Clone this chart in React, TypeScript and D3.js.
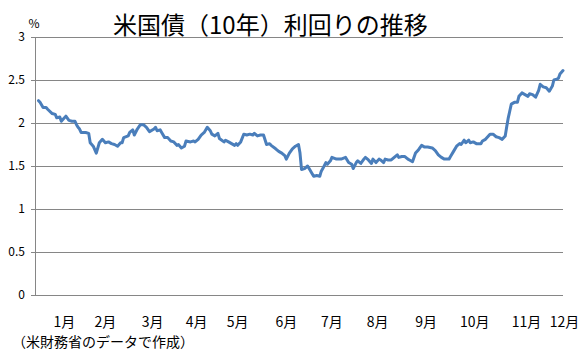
import React from "react";
import * as d3 from "d3";

const title = "米国債（10年）利回りの推移";
const unitLabel = "%";
const footnote = "（米財務省のデータで作成）";

// day-of-year positions of the observations and the yields (%)
const days = [
  5, 6, 8, 10, 11, 14, 16, 17, 19, 20, 21, 23, 25, 27, 29, 30, 31, 32, 33, 36, 38, 39, 41, 43, 45, 47, 49, 51, 53, 55, 57, 59, 60,
  61, 64, 65, 67, 68, 70, 72, 74, 76, 78, 81, 82, 83, 85, 86, 88, 90, 92, 94, 96, 97, 99, 101, 102, 105, 107, 108, 110, 112, 114, 116, 118, 119, 121, 123,
  124, 127, 128, 130, 132, 134, 135, 136, 138, 140, 142, 144, 146, 147, 149, 151, 153, 155, 157, 158, 161, 163, 165, 167, 168, 170, 172, 174, 176, 177, 178, 180, 182, 183, 185, 186,
  188, 190, 191, 192, 194, 195, 197, 198, 201, 202, 204, 207, 209, 211, 212, 214, 215, 217, 219, 220, 222, 224, 225, 227, 229, 230, 232, 233, 235, 237, 239, 241, 242, 244, 246, 248, 249,
  251, 253, 255, 257, 259, 261, 264, 266, 268, 270, 272, 275, 276, 278, 280, 282, 283, 285, 286, 288, 289, 291, 293, 296, 297, 299, 302, 304, 306, 308, 310,
  312, 313, 314, 315, 316, 318, 320, 321, 323, 325, 327, 328, 330, 332, 334, 335, 337, 339, 341, 343, 344, 346, 347, 348, 350,
];
const yields = [
  2.26, 2.24, 2.18, 2.18, 2.16, 2.11, 2.1, 2.06, 2.07, 2.02, 2.04, 2.08, 2.03, 2.02, 2.02, 1.98, 1.95, 1.93, 1.89, 1.89, 1.88, 1.77, 1.73, 1.65, 1.77, 1.81, 1.77, 1.78, 1.76, 1.75, 1.73, 1.77, 1.77,
  1.83, 1.85, 1.89, 1.92, 1.86, 1.93, 1.98, 1.98, 1.95, 1.9, 1.93, 1.95, 1.91, 1.92, 1.89, 1.83, 1.83, 1.79, 1.78, 1.74, 1.75, 1.71, 1.73, 1.79, 1.78, 1.79, 1.78, 1.81, 1.86, 1.89, 1.95, 1.91, 1.87, 1.85, 1.88,
  1.82, 1.78, 1.8, 1.78, 1.76, 1.74, 1.76, 1.74, 1.78, 1.87, 1.86, 1.87, 1.86, 1.88, 1.85, 1.86, 1.86, 1.75, 1.76, 1.74, 1.7, 1.67, 1.65, 1.62, 1.58, 1.65, 1.7, 1.73, 1.75, 1.65, 1.46, 1.47, 1.5, 1.47, 1.41, 1.38,
  1.39, 1.38, 1.44, 1.47, 1.54, 1.52, 1.56, 1.6, 1.58, 1.58, 1.58, 1.6, 1.54, 1.52, 1.47, 1.54, 1.56, 1.53, 1.58, 1.6, 1.57, 1.53, 1.58, 1.54, 1.58, 1.57, 1.54, 1.58, 1.57, 1.57, 1.6, 1.63, 1.6, 1.61, 1.61, 1.58, 1.57,
  1.55, 1.65, 1.69, 1.74, 1.72, 1.72, 1.71, 1.68, 1.63, 1.6, 1.58, 1.58, 1.61, 1.67, 1.73, 1.76, 1.75, 1.8, 1.77, 1.8, 1.77, 1.78, 1.76, 1.76, 1.79, 1.81, 1.87, 1.87, 1.84, 1.83, 1.81,
  1.85, 1.96, 2.06, 2.14, 2.22, 2.24, 2.24, 2.31, 2.35, 2.33, 2.31, 2.34, 2.33, 2.3, 2.38, 2.45, 2.42, 2.41, 2.37, 2.43, 2.5, 2.51, 2.52, 2.57, 2.61,
];

const monthLabels = ["1月", "2月", "3月", "4月", "5月", "6月", "7月", "8月", "9月", "10月", "11月", "12月"];
const monthLabelDays = [22, 49, 80, 109, 136, 168, 198, 228, 260, 292, 326, 351];

const yTicks = [0, 0.5, 1, 1.5, 2, 2.5, 3];
const yTickLabels = ["0", "0.5", "1", "1.5", "2", "2.5", "3"];

const W = 588;
const H = 356;
const FONT = "'Noto Sans CJK JP', 'Noto Sans', sans-serif";

export default function App() {
  const plotLeft = 35;
  const plotRight = 563;
  const x = d3.scaleLinear().domain([4, 350]).range([37, 563]);
  const y = d3.scaleLinear().domain([0, 3]).range([295, 37]);

  const points = days.map((d, i) => [d, yields[i]] as [number, number]);
  const line = d3
    .line<[number, number]>()
    .x((d) => x(d[0]))
    .y((d) => y(d[1]));

  return (
    <svg
      width={W}
      height={H}
      style={{ position: "absolute", left: 0, top: 0, background: "#fff" }}
      fontFamily={FONT}
    >
      <rect x={0} y={0} width={W} height={H} fill="#fff" />
      {/* gridlines */}
      {yTicks.map((t) => (
        <line
          key={"g" + t}
          x1={plotLeft}
          x2={plotRight}
          y1={Math.round(y(t)) + 0.5}
          y2={Math.round(y(t)) + 0.5}
          stroke="#868686"
          strokeWidth={1}
        />
      ))}
      {/* y axis */}
      <line
        x1={plotLeft + 0.5}
        x2={plotLeft + 0.5}
        y1={y(3)}
        y2={y(0)}
        stroke="#868686"
        strokeWidth={1}
      />
      {yTicks.map((t, i) => (
        <g key={"t" + t}>
          <line
            x1={plotLeft - 4}
            x2={plotLeft}
            y1={Math.round(y(t)) + 0.5}
            y2={Math.round(y(t)) + 0.5}
            stroke="#868686"
          />
          <text
            x={plotLeft - 10}
            y={y(t)}
            dy="0.35em"
            textAnchor="end"
            fontSize={12}
            fill="#000"
          >
            {yTickLabels[i]}
          </text>
        </g>
      ))}
      <text x={34} y={28} textAnchor="middle" fontSize={12} fill="#000">
        {unitLabel}
      </text>
      {/* title */}
      <text x={113} y={34} fontSize={24} fill="#000">
        {title}
      </text>
      {/* month labels */}
      {monthLabels.map((m, i) => (
        <text
          key={m}
          x={x(monthLabelDays[i])}
          y={327}
          textAnchor="middle"
          fontSize={14}
          fill="#000"
        >
          {m}
        </text>
      ))}
      <text x={12} y={347} fontSize={14} fill="#000">
        {footnote}
      </text>
      {/* data line */}
      <path
        d={line(points) || ""}
        fill="none"
        stroke="#4a7ebb"
        strokeWidth={3}
        strokeLinejoin="round"
        strokeLinecap="round"
      />
    </svg>
  );
}
